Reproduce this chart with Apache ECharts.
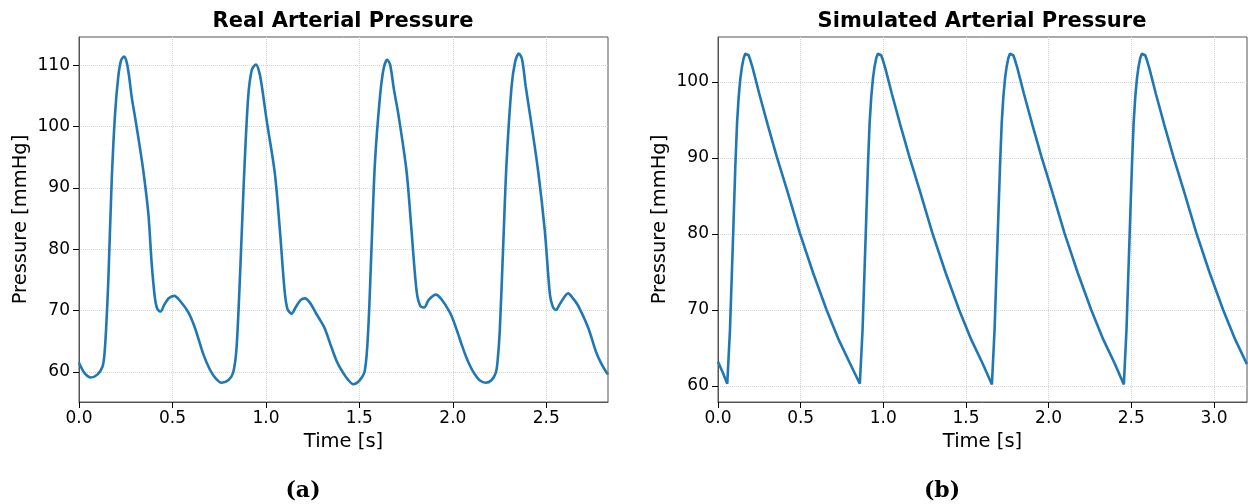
<!DOCTYPE html>
<html>
<head>
<meta charset="utf-8">
<title>Arterial Pressure</title>
<script src="https://cdn.jsdelivr.net/npm/echarts@6/dist/echarts.min.js"></script>
<style>
  html, body { margin: 0; padding: 0; background: #fff; }
  #chart { width: 1248px; height: 504px; }
</style>
</head>
<body>
<div id="chart"></div>
<script>
// real measured pressure, time [s] and pressure [mmHg]
var realTime = [
  0.000, 0.030, 0.063, 0.100, 0.125, 0.135, 0.145, 0.157, 0.175, 0.193, 0.210, 0.225, 0.241, 0.255, 0.268,
  0.282, 0.300, 0.317, 0.344, 0.371, 0.389, 0.406, 0.420, 0.437, 0.455, 0.480, 0.510, 0.540, 0.585, 0.620,
  0.665, 0.700, 0.730, 0.763, 0.800, 0.825, 0.843, 0.864, 0.882, 0.905, 0.925, 0.947, 0.965, 0.980, 1.004,
  1.048, 1.075, 1.100, 1.115, 1.137, 1.160, 1.185, 1.209, 1.235, 1.271, 1.295, 1.316, 1.345, 1.378, 1.410,
  1.440, 1.467, 1.500, 1.529, 1.547, 1.565, 1.583, 1.610, 1.630, 1.649, 1.665, 1.685, 1.708, 1.752, 1.779,
  1.806, 1.825, 1.847, 1.870, 1.909, 1.940, 1.984, 2.005, 2.028, 2.050, 2.073, 2.095, 2.118, 2.145, 2.176,
  2.205, 2.230, 2.240, 2.251, 2.269, 2.287, 2.314, 2.333, 2.353, 2.370, 2.390, 2.412, 2.456, 2.492, 2.519,
  2.535, 2.551, 2.575, 2.617, 2.645, 2.670, 2.724, 2.768, 2.795, 2.822, 2.830
];
var realPressure = [
  61.5, 59.8, 59.1, 59.6, 60.8, 62.5, 67.0, 75.0, 91.2, 102.1, 108.1, 110.8, 111.4, 110.5, 108.2,
  104.8, 101.5, 98.3, 92.8, 85.8, 77.6, 72.1, 70.2, 69.85, 70.9, 72.0, 72.4, 71.6, 69.7, 67.2,
  62.9, 60.4, 59.0, 58.25, 58.7, 59.9, 64.0, 77.6, 91.2, 104.8, 109.3, 110.1, 108.8, 106.2, 101.0,
  92.3, 83.0, 73.2, 70.3, 69.5, 70.6, 71.7, 72.0, 71.3, 69.4, 68.2, 67.0, 64.5, 61.8, 60.0,
  58.7, 58.0, 58.6, 60.2, 66.7, 80.3, 94.0, 104.8, 109.5, 110.9, 110.0, 106.0, 102.1, 92.8, 83.0,
  73.2, 70.8, 70.5, 71.7, 72.6, 71.8, 69.7, 68.2, 66.2, 64.2, 62.3, 60.8, 59.6, 58.6, 58.25,
  58.6, 59.9, 62.0, 66.7, 80.3, 93.9, 106.5, 110.5, 111.9, 111.0, 106.5, 102.1, 92.8, 83.0, 72.7,
  70.6, 70.1, 71.2, 72.8, 71.9, 70.8, 67.2, 63.1, 61.3, 59.9, 59.6
];

// simulated pressure, time [s] and pressure [mmHg]
var simTime = [
  0.000, 0.030, 0.056, 0.0725, 0.0925, 0.105, 0.115, 0.125, 0.135, 0.145, 0.155, 0.165, 0.175, 0.185, 0.195,
  0.210, 0.250, 0.300, 0.355, 0.420, 0.495, 0.575, 0.657, 0.730, 0.798,
  0.858, 0.8745, 0.8945, 0.907, 0.917, 0.927, 0.937, 0.947, 0.957, 0.967, 0.977, 0.987, 0.997,
  1.012, 1.052, 1.102, 1.157, 1.222, 1.297, 1.377, 1.459, 1.532, 1.600,
  1.657, 1.673, 1.693, 1.706, 1.716, 1.726, 1.736, 1.746, 1.756, 1.766, 1.776, 1.786, 1.796,
  1.811, 1.851, 1.901, 1.956, 2.021, 2.096, 2.176, 2.258, 2.331, 2.399,
  2.455, 2.471, 2.491, 2.504, 2.514, 2.524, 2.534, 2.544, 2.554, 2.564, 2.574, 2.584, 2.594,
  2.609, 2.649, 2.699, 2.754, 2.819, 2.894, 2.974, 3.056, 3.129, 3.197, 3.200
];
var simPressure = [
  63.2, 61.7, 60.3, 67.4, 80.5, 89.0, 94.5, 98.0, 100.4, 102.0, 103.1, 103.7, 103.8, 103.5, 102.9,
  101.8, 98.4, 94.4, 90.2, 85.6, 80.1, 74.9, 70.0, 66.1, 63.0,
  60.3, 67.4, 80.5, 89.0, 94.5, 98.0, 100.4, 102.0, 103.1, 103.7, 103.8, 103.5, 102.9,
  101.8, 98.4, 94.4, 90.2, 85.6, 80.1, 74.9, 70.0, 66.1, 63.0,
  60.2, 67.4, 80.5, 89.0, 94.5, 98.0, 100.4, 102.0, 103.1, 103.7, 103.8, 103.5, 102.9,
  101.8, 98.4, 94.4, 90.2, 85.6, 80.1, 74.9, 70.0, 66.1, 63.0,
  60.2, 67.4, 80.5, 89.0, 94.5, 98.0, 100.4, 102.0, 103.1, 103.7, 103.8, 103.5, 102.9,
  101.8, 98.4, 94.4, 90.2, 85.6, 80.1, 74.9, 70.0, 66.1, 63.0, 62.9
];

// tick labels
var realXTicks = [0, 0.5, 1.0, 1.5, 2.0, 2.5];
var realYTicks = [60, 70, 80, 90, 100, 110];
var simXTicks = [0, 0.5, 1.0, 1.5, 2.0, 2.5, 3.0];
var simYTicks = [60, 70, 80, 90, 100];

function pairs(xs, ys) {
  return xs.map(function (x, i) { return [x, ys[i]]; });
}

var font = 'DejaVu Sans';
var frame = '#555';
var gridStyle = { color: '#d6d6d6', type: 'dotted', width: 1 };

function xAxis(idx, max, ticks) {
  return {
    type: 'value', gridIndex: idx, min: 0, max: max,
    name: 'Time [s]', nameLocation: 'middle', nameGap: 28,
    nameTextStyle: { fontFamily: font, fontSize: 19.5, color: '#000' },
    axisLine: { lineStyle: { color: frame, width: 1 } },
    axisTick: { show: true, length: 6, customValues: ticks, lineStyle: { color: '#000', width: 1 } },
    axisLabel: { customValues: ticks, margin: 8, fontFamily: font, fontSize: 17, color: '#000',
      formatter: function (v) { return v.toFixed(1); } },
    splitLine: { show: true, lineStyle: gridStyle }
  };
}

function yAxis(idx, min, max, ticks) {
  return {
    type: 'value', gridIndex: idx, min: min, max: max,
    name: 'Pressure [mmHg]', nameLocation: 'middle', nameGap: 48,
    nameTextStyle: { fontFamily: font, fontSize: 19.5, color: '#000' },
    axisLine: { show: true, lineStyle: { color: frame, width: 1 } },
    axisTick: { show: true, length: 6, customValues: ticks, lineStyle: { color: '#000', width: 1 } },
    axisLabel: { customValues: ticks, margin: 9, fontFamily: font, fontSize: 17, color: '#000',
      formatter: function (v) { return String(Math.round(v)); } },
    splitLine: { show: true, lineStyle: gridStyle }
  };
}

function caption(x, y, text, size, family) {
  return {
    type: 'text', x: x, y: y,
    style: { text: text, fill: '#000', font: 'bold ' + size + 'px ' + family, align: 'center', verticalAlign: 'middle' }
  };
}

var chart = echarts.init(document.getElementById('chart'));
chart.setOption({
  animation: false,
  backgroundColor: '#fff',
  grid: [
    { left: 79, top: 37, width: 529, height: 365, show: true, borderColor: frame, borderWidth: 1 },
    { left: 718, top: 37, width: 529, height: 365, show: true, borderColor: frame, borderWidth: 1 }
  ],
  xAxis: [xAxis(0, 2.83, realXTicks), xAxis(1, 3.2, simXTicks)],
  yAxis: [yAxis(0, 55.1, 114.6, realYTicks), yAxis(1, 57.9, 105.9, simYTicks)],
  graphic: [
    caption(343, 22, 'Real Arterial Pressure', 21, font),
    caption(982, 22, 'Simulated Arterial Pressure', 21, font),
    caption(303, 491, '(a)', 22, 'DejaVu Serif'),
    caption(942, 491, '(b)', 22, 'DejaVu Serif')
  ],
  series: [
    { type: 'line', xAxisIndex: 0, yAxisIndex: 0, data: pairs(realTime, realPressure),
      showSymbol: false, smooth: 0.3, lineStyle: { color: '#1f77b4', width: 2.6 } },
    { type: 'line', xAxisIndex: 1, yAxisIndex: 1, data: pairs(simTime, simPressure),
      showSymbol: false, lineStyle: { color: '#1f77b4', width: 2.6 } }
  ]
});
</script>
</body>
</html>
